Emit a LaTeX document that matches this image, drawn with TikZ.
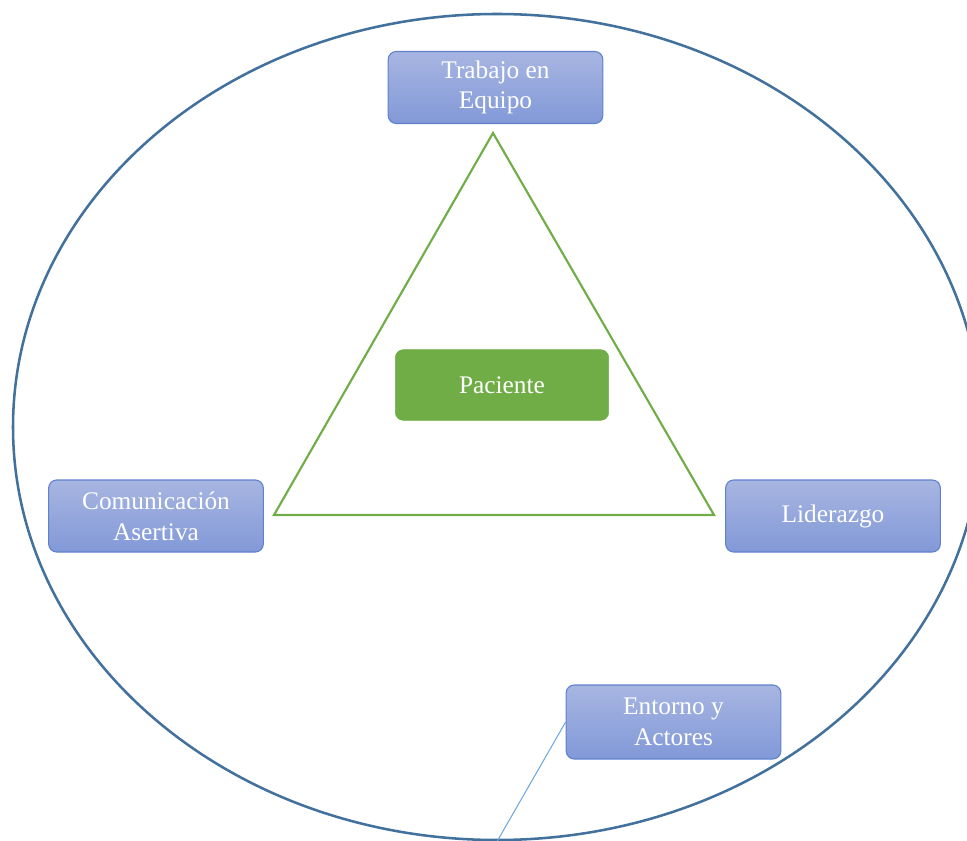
\documentclass[tikz,border=0pt]{standalone}
\usepackage{fontspec}
\setmainfont{Liberation Serif}
\usepackage{xcolor}
\definecolor{azulelipse}{HTML}{41719C}
\definecolor{cajaborde}{HTML}{5F82CE}
\definecolor{cajaarriba}{HTML}{A7B5E1}
\definecolor{cajaabajo}{HTML}{8299D8}
\definecolor{verde}{HTML}{70AD47}
\definecolor{azulclaro}{HTML}{6AA5DC}

\begin{document}
\begin{tikzpicture}[x=0.75pt,y=-0.75pt,caja/.style={rectangle, rounded corners=6pt, draw=cajaborde, line width=0.8pt, top color=cajaarriba, bottom color=cajaabajo, text=white, minimum width=161pt, minimum height=54pt, align=center, font=\fontsize{19}{23}\selectfont},centro/.style={rectangle, rounded corners=6pt, fill=verde, draw=verde, text=white, minimum width=160pt, minimum height=53pt, font=\fontsize{19}{23}\selectfont}]
\useasboundingbox (0,0) rectangle (967,841);
\draw [azulelipse, line width=1.9pt] (497,427) ellipse [x radius=484, y radius=413];
\coordinate (V1) at (493,133);
\coordinate (V2) at (274,515);
\coordinate (V3) at (714,515);
\draw [verde, line width=1.6pt, line join=miter] (V1) -- (V2) -- (V3) -- cycle;
\node [centro] (paciente) at (502,385){Paciente};
\node [caja] (equipo) at (495.5,87.5){Trabajo en\\Equipo};
\node [caja] (comunicacion) at (156,516){Comunicación\\Asertiva};
\node [caja] (liderazgo) at (833,516){Liderazgo};
\node [caja, minimum height=55.5pt] (entorno) at (673.5,722){Entorno y\\Actores};
\coordinate (fin) at (495,845);
\draw [azulclaro, line width=0.75pt] (entorno.west) -- (fin);
\end{tikzpicture}
\end{document}
